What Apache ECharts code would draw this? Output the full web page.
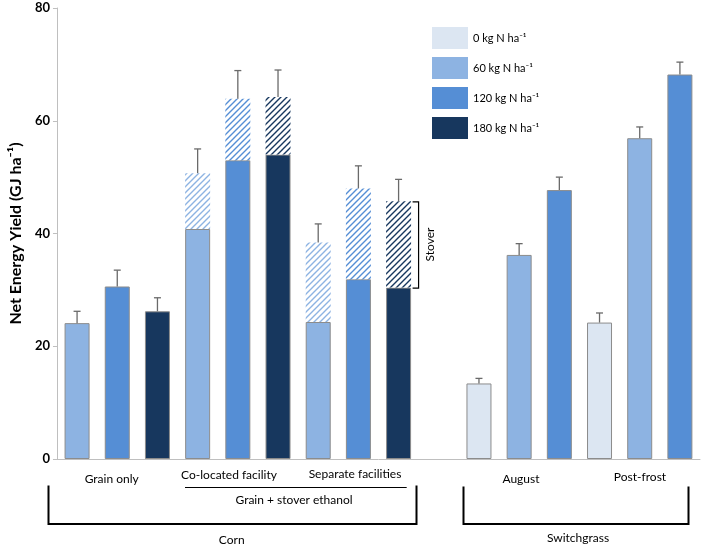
<!DOCTYPE html>
<html>
<head>
<meta charset="utf-8">
<script src="https://cdn.jsdelivr.net/npm/echarts@6/dist/echarts.min.js"></script>
<style>
html,body{margin:0;padding:0;background:#fff;}
#chart{width:704px;height:548px;}
</style>
</head>
<body>
<div id="chart"></div>
<script>
// ---- data ----
const categories = ['Grain only 60', 'Grain only 120', 'Grain only 180',
  'Co-located 60', 'Co-located 120', 'Co-located 180',
  'Separate 60', 'Separate 120', 'Separate 180', '',
  'August 0', 'August 60', 'August 120',
  'Post-frost 0', 'Post-frost 60', 'Post-frost 120'];
const nRates = [60, 120, 180, 60, 120, 180, 60, 120, 180, null, 0, 60, 120, 0, 60, 120];
const grainValues = [24.1, 30.6, 26.2, 40.8, 53.0, 54.0, 24.3, 31.9, 30.4, null, 13.4, 36.2, 47.7, 24.2, 56.9, 68.2];
const stoverValues = [null, null, null, 9.9, 10.9, 10.2, 14.1, 16.1, 15.3, null, null, null, null, null, null, null];
const errorValues = [2.1, 2.9, 2.4, 4.3, 5.0, 4.8, 3.3, 4.0, 3.9, null, 0.9, 2.0, 2.3, 1.7, 2.0, 2.2];
const levels = [0, 60, 120, 180];
const levelNames = ['0 kg N ha\u207B\u00B9', '60 kg N ha\u207B\u00B9', '120 kg N ha\u207B\u00B9', '180 kg N ha\u207B\u00B9'];
const levelColors = ['#dce6f2', '#8db3e2', '#558ed5', '#17375e'];
const yTicks = { min: 0, max: 80, interval: 20 };

const FONT = 'Lato, "Liberation Sans", sans-serif';

function hatch(color) {
  const c = document.createElement('canvas');
  c.width = 6; c.height = 6;
  const ctx = c.getContext('2d');
  ctx.fillStyle = '#ffffff';
  ctx.fillRect(0, 0, 6, 6);
  ctx.strokeStyle = color;
  ctx.lineWidth = 1.4;
  ctx.beginPath();
  ctx.moveTo(-1, 7); ctx.lineTo(7, -1);
  ctx.moveTo(-4, 4); ctx.lineTo(4, -4);
  ctx.moveTo(2, 10); ctx.lineTo(10, 2);
  ctx.stroke();
  return { image: c, repeat: 'repeat' };
}

const series = [];
levels.forEach((L, k) => {
  series.push({
    name: levelNames[k],
    type: 'bar',
    stack: 's' + L,
    barWidth: 25,
    barGap: '-100%',
    data: categories.map((c, i) => nRates[i] === L ? grainValues[i] : '-'),
    itemStyle: { color: levelColors[k], borderColor: '#8c8c8c', borderWidth: 1 },
    emphasis: { disabled: true }
  });
  if (L > 0) {
    series.push({
      name: 'Stover ' + L,
      type: 'bar',
      stack: 's' + L,
      barWidth: 25,
      barGap: '-100%',
      data: categories.map((c, i) => (nRates[i] === L && stoverValues[i] != null) ? stoverValues[i] : '-'),
      itemStyle: { color: hatch(levelColors[k]), borderWidth: 0 },
      emphasis: { disabled: true }
    });
  }
});

const errData = [];
categories.forEach((c, i) => {
  if (errorValues[i] != null) {
    errData.push([i, grainValues[i] + (stoverValues[i] || 0), errorValues[i]]);
  }
});
series.push({
  name: 'error',
  type: 'custom',
  z: 5,
  data: errData,
  encode: { x: 0, y: 1 },
  renderItem: function (params, api) {
    const x = api.value(0), top = api.value(1), err = api.value(2);
    const p0 = api.coord([x, top]);
    const p1 = api.coord([x, top + err]);
    const st = { stroke: '#6a6a6a', lineWidth: 1.3 };
    return {
      type: 'group',
      children: [
        { type: 'line', shape: { x1: p0[0], y1: p0[1], x2: p1[0], y2: p1[1] }, style: st },
        { type: 'line', shape: { x1: p1[0] - 3.5, y1: p1[1], x2: p1[0] + 3.5, y2: p1[1] }, style: st }
      ]
    };
  }
});

const chart = echarts.init(document.getElementById('chart'), null, { renderer: 'canvas' });

function txt(t, x, y, opts) {
  return Object.assign({
    type: 'text', x: x, y: y,
    style: { text: t, font: '12px ' + FONT, fill: '#000', align: 'center', verticalAlign: 'middle' }
  }, opts || {});
}
function pl(points, w) {
  return { type: 'polyline', shape: { points: points }, style: { stroke: '#000', lineWidth: w, fill: null } };
}

chart.setOption({
  animation: false,
  grid: { left: 48, right: 4, top: 8, bottom: 89, containLabel: false },
  legend: {
    orient: 'vertical',
    left: 432,
    top: 27,
    padding: 0,
    itemWidth: 36,
    itemHeight: 22,
    itemGap: 8,
    icon: 'rect',
    selectedMode: false,
    data: levelNames,
    itemStyle: { borderWidth: 0 },
    textStyle: { fontFamily: FONT, fontSize: 11, color: '#000' }
  },
  xAxis: {
    type: 'category',
    data: categories,
    axisLine: { lineStyle: { color: '#bfbfbf', width: 1 } },
    axisTick: { show: false },
    axisLabel: { show: false }
  },
  yAxis: {
    type: 'value',
    min: yTicks.min,
    max: yTicks.max,
    interval: yTicks.interval,
    name: 'Net Energy Yield (GJ ha\u207B\u00B9)',
    nameLocation: 'middle',
    nameGap: 25,
    nameTextStyle: { fontFamily: FONT, fontSize: 16, fontWeight: 'bold', color: '#000' },
    splitLine: { show: false },
    axisLine: { show: true, lineStyle: { color: '#bfbfbf', width: 1 } },
    axisTick: { show: true, length: 4, lineStyle: { color: '#bfbfbf' } },
    axisLabel: { margin: 7, fontFamily: FONT, fontSize: 13, fontWeight: 'bold', color: '#000' }
  },
  series: series
});

// stover bracket from data of the last separate-facility bar
const iS = 8;
const yTop = chart.convertToPixel({ yAxisIndex: 0 }, grainValues[iS] + stoverValues[iS]);
const yBot = chart.convertToPixel({ yAxisIndex: 0 }, grainValues[iS]);
const xBar = chart.convertToPixel({ xAxisIndex: 0 }, categories[iS]);
const bx = xBar + 20;

chart.setOption({
  graphic: [
    txt('Grain only', 111.7, 479),
    txt('Co-located facility', 229, 475),
    txt('Separate facilities', 355, 474),
    txt('August', 521, 479),
    txt('Post-frost', 640, 477.5),
    { type: 'line', shape: { x1: 185, y1: 487.5, x2: 406.7, y2: 487.5 }, style: { stroke: '#000', lineWidth: 1 } },
    txt('Grain + stover ethanol', 294, 500.5),
    pl([[48.5, 485.5], [48.5, 524], [416.5, 524], [416.5, 485.5]], 2),
    txt('Corn', 231.7, 540.5),
    pl([[463.5, 486.5], [463.5, 524], [688.5, 524], [688.5, 486.5]], 2),
    txt('Switchgrass', 578, 538),
    pl([[bx - 6, yTop + 0.5], [bx, yTop + 0.5], [bx, yBot + 0.5], [bx - 6, yBot + 0.5]], 1.2),
    txt('Stover', bx + 12, (yTop + yBot) / 2, { rotation: Math.PI / 2 })
  ]
});
</script>
</body>
</html>
